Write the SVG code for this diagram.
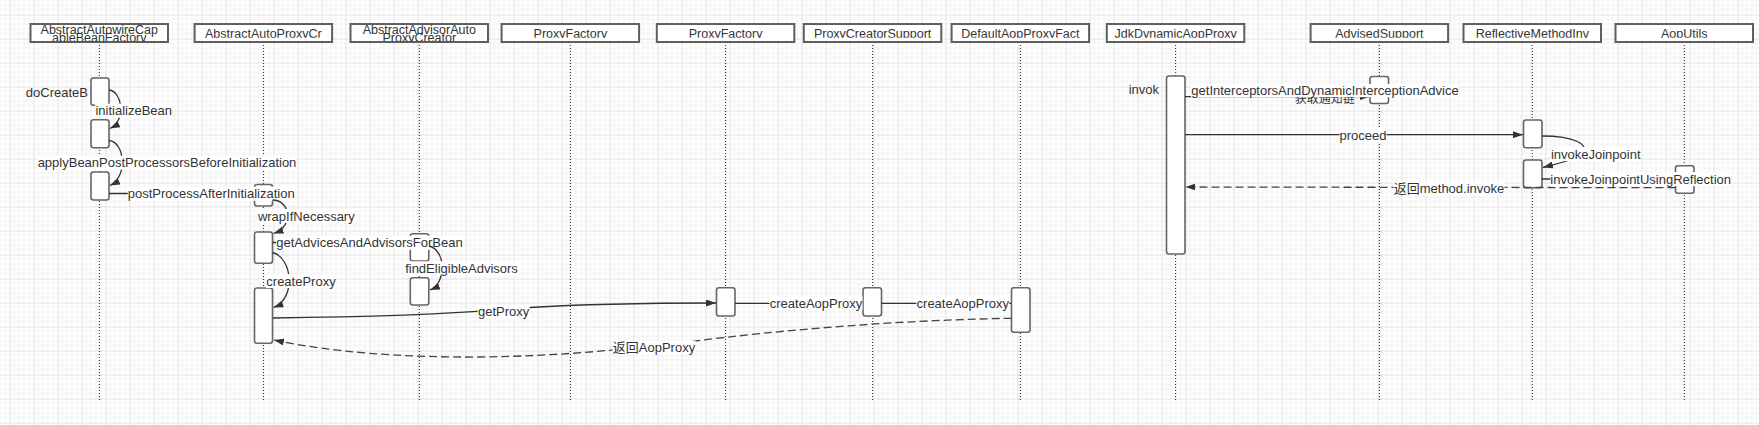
<svg xmlns="http://www.w3.org/2000/svg" width="1759" height="425" viewBox="0 0 1759 425">
<style>
.hd{fill:#fff;stroke:#5e5e5e;stroke-width:2}
.ht{font-family:"Liberation Sans",Arial,"Noto Sans CJK SC",sans-serif;font-size:12.5px;fill:#333;text-anchor:middle}
.ll{stroke:#222;stroke-width:1;stroke-dasharray:1 2;fill:none}
.act{fill:#fff;stroke:#666;stroke-width:1.6}
.msg{fill:none;stroke:#333;stroke-width:1.3}
.ret{fill:none;stroke:#444;stroke-width:1.3;stroke-dasharray:8 4}
.lb{font-family:"Liberation Sans",Arial,"Noto Sans CJK SC",sans-serif;font-size:13px;fill:#333;text-anchor:middle}
.bg{fill:#fff}
</style>
<defs>
<pattern id="grid" width="24" height="24" patternUnits="userSpaceOnUse" x="9.5" y="14.5">
<path d="M4.8,0V24M9.6,0V24M14.4,0V24M19.2,0V24M0,4.8H24M0,9.6H24M0,14.4H24M0,19.2H24" stroke="#f1f1f1" stroke-width="1" fill="none"/>
<path d="M0.5,0V24M0,0.5H24" stroke="#e2e2e2" stroke-width="1" fill="none"/>
</pattern>
<clipPath id="c1"><rect x="0" y="20" width="1759" height="17.8"/></clipPath>
<clipPath id="c2"><rect x="0" y="20" width="1759" height="21.2"/></clipPath>
<marker id="ah" viewBox="0 0 10 7" refX="10" refY="3.5" markerWidth="10" markerHeight="7" markerUnits="userSpaceOnUse" orient="auto">
<path d="M0,0 L10,3.5 L0,7 z" fill="#333" stroke="none"/>
</marker>
</defs>
<rect width="1759" height="425" fill="#fff"/>
<rect width="1759" height="425" fill="url(#grid)"/>

<g id="n-abstractAutowire">
<line class="ll" x1="99.3" y1="42" x2="99.3" y2="402"/>
<rect class="hd" x="30.5" y="24" width="137.5" height="18"/>
<g clip-path="url(#c2)"><text class="ht" x="99.3" y="33.5">AbstractAutowireCap</text><text class="ht" x="99.3" y="42">ableBeanFactory</text></g>
<rect class="act" x="91" y="78" width="18" height="27.3" rx="2.5"/>
<rect class="act" x="91" y="119.7" width="18" height="28" rx="2.5"/>
<rect class="act" x="91" y="172" width="18" height="28" rx="2.5"/>
</g>

<g id="n-abstractAutoProxy">
<line class="ll" x1="263.4" y1="42" x2="263.4" y2="402"/>
<rect class="hd" x="194.6" y="24" width="137.5" height="18"/>
<g clip-path="url(#c1)"><text class="ht" x="263.4" y="37.6">AbstractAutoProxyCr</text></g>
<rect class="act" x="254.5" y="184.5" width="18" height="21.5" rx="2.5"/>
<rect class="act" x="254.5" y="232" width="18" height="31.3" rx="2.5"/>
<rect class="act" x="254.5" y="288" width="18" height="55.3" rx="2.5"/>
</g>

<g id="n-abstractAdvisor">
<line class="ll" x1="419.3" y1="42" x2="419.3" y2="402"/>
<rect class="hd" x="350.5" y="24" width="137.5" height="18"/>
<g clip-path="url(#c2)"><text class="ht" x="419.3" y="33.5">AbstractAdvisorAuto</text><text class="ht" x="419.3" y="42">ProxyCreator</text></g>
<rect class="act" x="410.3" y="233.7" width="18.5" height="27.3" rx="2.5"/>
<rect class="act" x="410.3" y="277.7" width="18.5" height="27.3" rx="2.5"/>
</g>

<g id="n-proxyFactory1">
<line class="ll" x1="570.4" y1="42" x2="570.4" y2="402"/>
<rect class="hd" x="501.6" y="24" width="137.5" height="18"/>
<g clip-path="url(#c1)"><text class="ht" x="570.4" y="37.6">ProxyFactory</text></g>
</g>

<g id="n-proxyFactory2">
<line class="ll" x1="725.6" y1="42" x2="725.6" y2="402"/>
<rect class="hd" x="656.8" y="24" width="137.5" height="18"/>
<g clip-path="url(#c1)"><text class="ht" x="725.6" y="37.6">ProxyFactory</text></g>
<rect class="act" x="716.5" y="287.7" width="18.5" height="28.3" rx="2.5"/>
</g>

<g id="n-proxyCreatorSupport">
<line class="ll" x1="872.6" y1="42" x2="872.6" y2="402"/>
<rect class="hd" x="803.8" y="24" width="137.5" height="18"/>
<g clip-path="url(#c1)"><text class="ht" x="872.6" y="37.6">ProxyCreatorSupport</text></g>
<rect class="act" x="863" y="287.7" width="18.5" height="28.3" rx="2.5"/>
</g>

<g id="n-defaultAopProxyFactory">
<line class="ll" x1="1020.4" y1="42" x2="1020.4" y2="402"/>
<rect class="hd" x="951.6" y="24" width="137.5" height="18"/>
<g clip-path="url(#c1)"><text class="ht" x="1020.4" y="37.6">DefaultAopProxyFact</text></g>
<rect class="act" x="1011.5" y="287.7" width="18.5" height="44.6" rx="2.5"/>
</g>

<g id="n-jdkDynamicAopProxy">
<line class="ll" x1="1175.6" y1="42" x2="1175.6" y2="402"/>
<rect class="hd" x="1106.8" y="24" width="137.5" height="18"/>
<g clip-path="url(#c1)"><text class="ht" x="1175.6" y="37.6">JdkDynamicAopProxy</text></g>
<rect class="act" x="1166.5" y="76" width="18.5" height="178" rx="2.5"/>
</g>

<g id="n-advisedSupport">
<line class="ll" x1="1379.4" y1="42" x2="1379.4" y2="402"/>
<rect class="hd" x="1310.6" y="24" width="137.5" height="18"/>
<g clip-path="url(#c1)"><text class="ht" x="1379.4" y="37.6">AdvisedSupport</text></g>
<rect class="act" x="1370" y="76.5" width="18.5" height="27" rx="2.5"/>
</g>

<g id="n-reflectiveMethodInvocation">
<line class="ll" x1="1532.3" y1="42" x2="1532.3" y2="402"/>
<rect class="hd" x="1463.5" y="24" width="137.5" height="18"/>
<g clip-path="url(#c1)"><text class="ht" x="1532.3" y="37.6">ReflectiveMethodInv</text></g>
<rect class="act" x="1523.5" y="120" width="18.5" height="27.7" rx="2.5"/>
<rect class="act" x="1523.5" y="160" width="18.5" height="27.7" rx="2.5"/>
</g>

<g id="n-aopUtils">
<line class="ll" x1="1684.3" y1="42" x2="1684.3" y2="402"/>
<rect class="hd" x="1615.5" y="24" width="137.5" height="18"/>
<g clip-path="url(#c1)"><text class="ht" x="1684.3" y="37.6">AopUtils</text></g>
<rect class="act" x="1675.5" y="165.7" width="18.5" height="27.6" rx="2.5"/>
</g>

<g id="connectors">
<text class="lb" x="88" y="96.5" style="text-anchor:end">doCreateB</text>

<path class="msg" d="M109,90 C122,91 127,120 110,128.5" marker-end="url(#ah)"/>
<rect class="bg" x="95.2" y="103.7" width="77" height="14"/>
<text class="lb" x="133.7" y="115.2">initializeBean</text>

<path class="msg" d="M109,140.5 C125,142 128,177 110,185.5" marker-end="url(#ah)"/>
<rect class="bg" x="37.5" y="155.7" width="259" height="14"/>
<text class="lb" x="167" y="167.2">applyBeanPostProcessorsBeforeInitialization</text>

<path class="msg" d="M109,193.5 H254" marker-end="url(#ah)"/>
<rect class="bg" x="127.7" y="186.7" width="167" height="14"/>
<text class="lb" x="211.2" y="198.2">postProcessAfterInitialization</text>

<path class="msg" d="M272.5,200 C290,200 295,226 273.5,233.5" marker-end="url(#ah)"/>
<rect class="bg" x="257.8" y="209" width="97" height="14"/>
<text class="lb" x="306.3" y="220.5">wrapIfNecessary</text>

<path class="msg" d="M272.5,242.5 H410" marker-end="url(#ah)"/>
<rect class="bg" x="276" y="235.7" width="187" height="14"/>
<text class="lb" x="369.5" y="247.2">getAdvicesAndAdvisorsForBean</text>

<path class="msg" d="M429,246 C446,250 447,283 430,290" marker-end="url(#ah)"/>
<rect class="bg" x="403.5" y="261.3" width="116" height="14"/>
<text class="lb" x="461.5" y="272.8">findEligibleAdvisors</text>

<path class="msg" d="M272.5,252.5 C293,258 296,299 273.5,307.5" marker-end="url(#ah)"/>
<rect class="bg" x="266" y="274" width="70" height="14"/>
<text class="lb" x="301" y="285.5">createProxy</text>

<path class="msg" d="M273,318 C380,317 470,313 530,307.5 C600,303 660,303 716,303" marker-end="url(#ah)"/>
<rect class="bg" x="477.6" y="304.7" width="52" height="14"/>
<text class="lb" x="503.6" y="316.2">getProxy</text>

<path class="msg" d="M735,303.3 H862.5" marker-end="url(#ah)"/>
<rect class="bg" x="769.5" y="296.3" width="93" height="14"/>
<text class="lb" x="816" y="307.8">createAopProxy</text>

<path class="msg" d="M881.5,303.3 H1011" marker-end="url(#ah)"/>
<rect class="bg" x="916.3" y="296.3" width="93" height="14"/>
<text class="lb" x="962.8" y="307.8">createAopProxy</text>

<path class="ret" d="M1011.5,318.3 C900,320 780,330 690,341.7 C620,350 560,356 480,357 C400,357.5 330,352 274,340" marker-end="url(#ah)"/>
<rect class="bg" x="612.5" y="340.7" width="83" height="14"/>
<text class="lb" x="654" y="352.2">返回AopProxy</text>

<text class="lb" x="1159" y="93.8" style="text-anchor:end">invok</text>

<path class="msg" d="M1185,96.7 H1369.5" marker-end="url(#ah)"/>
<text class="lb" x="1324.7" y="102.8" style="font-size:12px">获取通知链</text>
<rect class="bg" x="1191" y="84" width="268" height="13.2"/>
<text class="lb" x="1325" y="95.2">getInterceptorsAndDynamicInterceptionAdvice</text>

<path class="msg" d="M1185,134.7 H1523" marker-end="url(#ah)"/>
<rect class="bg" x="1339.5" y="128" width="47" height="14"/>
<text class="lb" x="1363" y="139.5">proceed</text>

<path class="msg" d="M1542,136 C1575,136 1590,145 1582,153 C1575,160 1560,163 1543,167.5" marker-end="url(#ah)"/>
<rect class="bg" x="1550.7" y="147" width="90" height="14"/>
<text class="lb" x="1595.7" y="158.5">invokeJoinpoint</text>

<path class="msg" d="M1542,179 H1675" marker-end="url(#ah)"/>
<rect class="bg" x="1550.2" y="172" width="181" height="14"/>
<text class="lb" x="1640.7" y="183.5">invokeJoinpointUsingReflection</text>

<path class="ret" d="M1675.5,187.7 L1185.5,187" marker-end="url(#ah)"/>
<rect class="bg" x="1393.5" y="181.3" width="111" height="14"/>
<text class="lb" x="1449" y="192.8">返回method.invoke</text>
</g>
</svg>
